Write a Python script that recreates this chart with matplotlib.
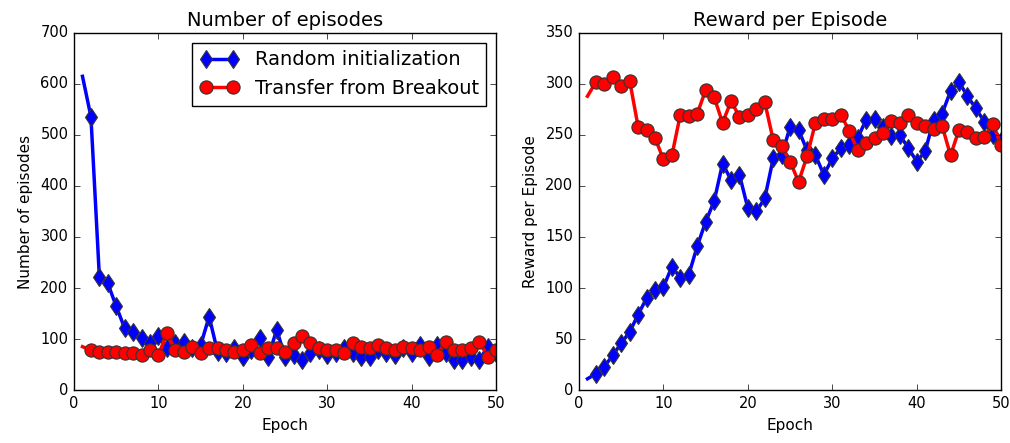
import matplotlib
matplotlib.use("Agg")
import matplotlib.pyplot as plt

epochs = list(range(1, 51))

# number of episodes per epoch
episodes_random = [615, 536, 222, 209, 164, 121, 114, 101, 92, 105,
                   82, 92, 95, 82, 88, 144, 75, 72, 82, 65,
                   78, 101, 65, 118, 65, 69, 59, 72, 78, 69,
                   72, 82, 72, 65, 65, 78, 72, 69, 82, 72,
                   88, 65, 88, 72, 59, 59, 65, 59, 85, 72]
episodes_transfer = [85, 78, 75, 75, 75, 72, 72, 69, 78, 69,
                     111, 78, 75, 85, 72, 82, 82, 78, 75, 78,
                     88, 72, 82, 82, 75, 92, 105, 92, 82, 78,
                     78, 72, 92, 85, 82, 88, 82, 78, 85, 82,
                     78, 85, 69, 95, 78, 78, 82, 95, 65, 78]

# reward per episode
reward_random = [11, 16, 23, 34, 46, 57, 74, 90, 98, 101,
                 121, 110, 113, 141, 165, 185, 222, 206, 211, 178,
                 175, 188, 227, 230, 258, 255, 235, 230, 211, 227,
                 237, 240, 247, 265, 266, 258, 249, 250, 237, 224,
                 234, 265, 271, 293, 302, 288, 276, 263, 250, 244]
reward_transfer = [288, 302, 300, 307, 298, 303, 258, 255, 247, 226,
                   230, 270, 269, 271, 294, 287, 262, 283, 268, 270,
                   275, 282, 245, 239, 224, 204, 229, 262, 266, 266,
                   270, 254, 235, 242, 247, 252, 264, 262, 270, 262,
                   259, 256, 259, 230, 255, 253, 247, 248, 261, 240]

plt.style.use("classic")
plt.rcParams["font.family"] = "DejaVu Sans"

fig = plt.figure(figsize=(10.1, 4.43), dpi=100, facecolor="white")
ax1 = fig.add_axes([0.0733, 0.1196, 0.418, 0.806])
ax2 = fig.add_axes([0.5733, 0.1196, 0.418, 0.806])

style = dict(linewidth=2.5, markersize=9.5, markevery=slice(1, None),
             markeredgecolor="#333333", markeredgewidth=0.8)

ax1.plot(epochs, episodes_random, "b-d", label="Random initialization", **style)
ax1.plot(epochs, episodes_transfer, "r-o", label="Transfer from Breakout", **style)
ax1.set_xlim(0, 50)
ax1.set_ylim(0, 700)
ax1.set_title("Number of episodes", fontsize=14)
ax1.set_xlabel("Epoch", fontsize=11)
ax1.set_ylabel("Number of episodes", fontsize=11)
ax1.legend(loc="upper right", numpoints=2, fontsize=14)

ax2.plot(epochs, reward_random, "b-d", **style)
ax2.plot(epochs, reward_transfer, "r-o", **style)
ax2.set_xlim(0, 50)
ax2.set_ylim(0, 350)
ax2.set_title("Reward per Episode", fontsize=14)
ax2.set_xlabel("Epoch", fontsize=11)
ax2.set_ylabel("Reward per Episode", fontsize=11)

for ax in (ax1, ax2):
    ax.tick_params(labelsize=10.5)

fig.savefig("out.png", dpi=100, facecolor="white")
